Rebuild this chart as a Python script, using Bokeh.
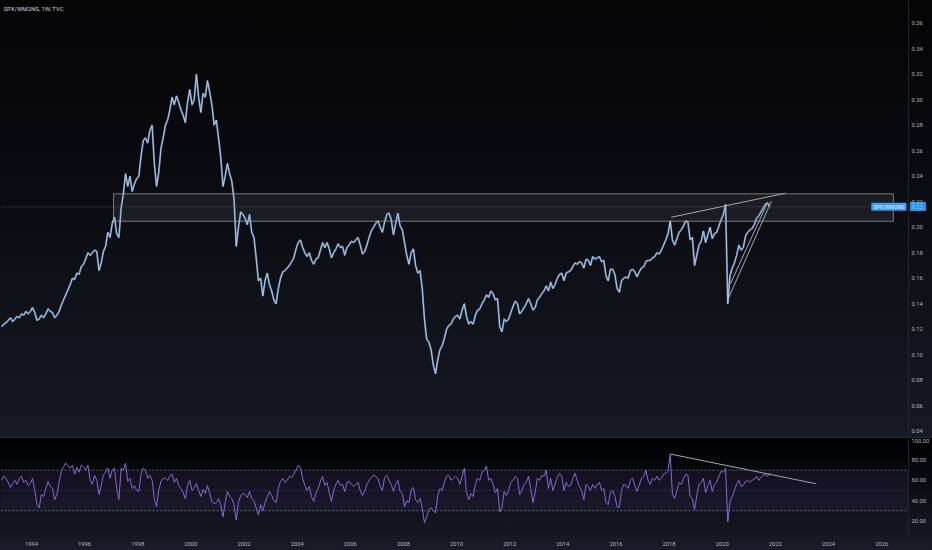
import pandas as pd
from bokeh.plotting import figure
from bokeh.layouts import column
from bokeh.models import (Range1d, FixedTicker, PrintfTickFormatter, BoxAnnotation,
                          Span, Label, ColumnDataSource)
from bokeh.embed import file_html
from bokeh.resources import INLINE

# ---------------- data (monthly) ----------------
title_text = "SPX/WM2NS, 1W, TVC"
series_name = "SPX/WM2NS"

months = pd.date_range("1992-11-01", "2021-10-01", freq="MS")

ratio_close = [
    0.122, 0.124,  # 1992
    0.125, 0.127, 0.129, 0.126, 0.128, 0.130, 0.129, 0.132, 0.131, 0.134, 0.132, 0.134,  # 1993
    0.137, 0.133, 0.127, 0.128, 0.131, 0.129, 0.132, 0.136, 0.134, 0.133, 0.129, 0.131,  # 1994
    0.134, 0.139, 0.143, 0.147, 0.151, 0.155, 0.160, 0.159, 0.164, 0.163, 0.169, 0.171,  # 1995
    0.175, 0.180, 0.178, 0.180, 0.182, 0.181, 0.166, 0.172, 0.181, 0.185, 0.196, 0.192,  # 1996
    0.203, 0.208, 0.195, 0.192, 0.215, 0.226, 0.242, 0.232, 0.240, 0.228, 0.234, 0.238,  # 1997
    0.240, 0.256, 0.268, 0.270, 0.266, 0.276, 0.280, 0.250, 0.232, 0.243, 0.262, 0.270,  # 1998
    0.280, 0.284, 0.292, 0.302, 0.296, 0.303, 0.298, 0.292, 0.288, 0.282, 0.298, 0.308,  # 1999
    0.296, 0.300, 0.320, 0.302, 0.290, 0.305, 0.302, 0.315, 0.306, 0.296, 0.280, 0.284,  # 2000
    0.270, 0.255, 0.232, 0.240, 0.250, 0.242, 0.236, 0.222, 0.185, 0.200, 0.212, 0.210,  # 2001
    0.207, 0.202, 0.210, 0.196, 0.192, 0.176, 0.158, 0.160, 0.146, 0.158, 0.164, 0.155,  # 2002
    0.150, 0.143, 0.140, 0.152, 0.160, 0.165, 0.166, 0.168, 0.170, 0.173, 0.176, 0.183,  # 2003
    0.188, 0.190, 0.184, 0.180, 0.177, 0.180, 0.174, 0.171, 0.175, 0.176, 0.182, 0.188,  # 2004
    0.184, 0.188, 0.183, 0.176, 0.180, 0.183, 0.187, 0.184, 0.185, 0.178, 0.184, 0.186,  # 2005
    0.189, 0.188, 0.190, 0.192, 0.186, 0.179, 0.181, 0.186, 0.192, 0.197, 0.200, 0.203,  # 2006
    0.205, 0.200, 0.196, 0.204, 0.210, 0.211, 0.206, 0.194, 0.203, 0.211, 0.201, 0.198,  # 2007
    0.188, 0.178, 0.171, 0.180, 0.183, 0.170, 0.164, 0.166, 0.152, 0.128, 0.112, 0.110,  # 2008
    0.104, 0.092, 0.085, 0.096, 0.104, 0.107, 0.113, 0.120, 0.123, 0.124, 0.128, 0.130,  # 2009
    0.131, 0.128, 0.135, 0.140, 0.130, 0.124, 0.126, 0.124, 0.131, 0.135, 0.136, 0.140,  # 2010
    0.143, 0.147, 0.145, 0.150, 0.148, 0.143, 0.144, 0.122, 0.118, 0.128, 0.126, 0.128,  # 2011
    0.133, 0.138, 0.142, 0.140, 0.132, 0.134, 0.137, 0.140, 0.144, 0.140, 0.135, 0.137,  # 2012
    0.143, 0.145, 0.148, 0.150, 0.154, 0.150, 0.157, 0.152, 0.155, 0.160, 0.163, 0.164,  # 2013
    0.158, 0.164, 0.165, 0.166, 0.169, 0.172, 0.171, 0.173, 0.172, 0.168, 0.175, 0.174,  # 2014
    0.170, 0.177, 0.175, 0.176, 0.177, 0.173, 0.174, 0.162, 0.158, 0.167, 0.167, 0.163,  # 2015
    0.152, 0.149, 0.158, 0.160, 0.161, 0.160, 0.166, 0.167, 0.165, 0.161, 0.165, 0.168,  # 2016
    0.169, 0.173, 0.174, 0.174, 0.176, 0.177, 0.180, 0.179, 0.182, 0.186, 0.190, 0.195,  # 2017
    0.205, 0.190, 0.186, 0.191, 0.196, 0.198, 0.201, 0.205, 0.204, 0.190, 0.192, 0.170,  # 2018
    0.178, 0.186, 0.189, 0.197, 0.188, 0.194, 0.200, 0.191, 0.195, 0.196, 0.201, 0.206,  # 2019
    0.210, 0.218, 0.140, 0.162, 0.168, 0.172, 0.178, 0.186, 0.182, 0.184, 0.193, 0.196,  # 2020
    0.198, 0.199, 0.202, 0.207, 0.209, 0.212, 0.215, 0.218, 0.219, 0.216,                # 2021
]

rsi_values = [
    60, 64,
    62, 58, 53, 57, 60, 56, 62, 64, 58, 60, 55, 57,
    62, 50, 36, 33, 46, 44, 52, 59, 54, 52, 41, 46,
    58, 69, 73, 77, 74, 72, 75, 66, 73, 68, 75, 73,
    70, 75, 60, 56, 65, 60, 46, 55, 65, 68, 72, 62,
    70, 72, 52, 41, 72, 70, 77, 59, 62, 52, 55, 50,
    49, 66, 72, 70, 62, 65, 60, 42, 34, 50, 59, 62,
    62, 60, 64, 66, 58, 62, 55, 52, 48, 42, 55, 60,
    50, 52, 57, 50, 44, 51, 47, 55, 47, 39, 37, 38,
    42, 36, 24, 38, 49, 44, 42, 36, 21, 38, 45, 47,
    46, 43, 49, 42, 40, 33, 26, 36, 30, 38, 44, 49,
    45, 40, 38, 52, 59, 62, 58, 60, 64, 63, 66, 70,
    75, 72, 62, 55, 50, 54, 44, 39, 48, 52, 59, 64,
    55, 58, 48, 39, 50, 56, 60, 55, 56, 49, 58, 59,
    56, 54, 56, 58, 50, 45, 49, 56, 60, 63, 65, 64,
    62, 54, 50, 63, 65, 60, 56, 49, 56, 60, 49, 47,
    34, 40, 38, 51, 53, 41, 38, 42, 33, 18, 24, 31,
    33, 30, 28, 45, 52, 50, 58, 64, 65, 60, 62, 64,
    62, 56, 64, 72, 48, 41, 47, 44, 56, 62, 60, 68,
    70, 74, 60, 62, 56, 48, 52, 29, 33, 49, 45, 50,
    58, 60, 64, 62, 46, 50, 56, 58, 64, 52, 38, 48,
    62, 60, 65, 64, 70, 52, 62, 50, 56, 63, 67, 64,
    50, 58, 54, 55, 62, 67, 60, 54, 50, 41, 56, 54,
    50, 56, 52, 56, 58, 50, 52, 38, 36, 48, 50, 44,
    34, 33, 50, 56, 55, 52, 60, 62, 55, 49, 55, 62,
    64, 70, 60, 56, 62, 60, 64, 60, 62, 66, 67, 69,
    86, 46, 42, 50, 58, 56, 62, 66, 65, 44, 42, 31,
    45, 56, 58, 62, 48, 55, 60, 49, 56, 58, 64, 69,
    68, 72, 19, 39, 44, 50, 56, 60, 54, 55, 59, 60,
    58, 60, 61, 64, 60, 63, 65, 66, 64, 67,
]

# drawings (decimal years / values)
zone_years = [1997.09, 2026.44]
zone_values = [0.2047, 0.2262]
trend_x0 = [2018.08, 2020.25, 2020.31]
trend_y0 = [0.2078, 0.1451, 0.1558]
trend_x1 = [2022.38, 2021.85, 2021.71]
trend_y1 = [0.2267, 0.2204, 0.2196]
rsi_trend_x = [2018.06, 2023.54]
rsi_trend_y = [85.8, 56.6]

year_ticks = list(range(1994, 2027, 2))
price_ticks = [0.04, 0.06, 0.08, 0.10, 0.12, 0.14, 0.16, 0.18, 0.20, 0.22,
               0.24, 0.26, 0.28, 0.30, 0.32, 0.34, 0.36]
rsi_ticks = [20, 40, 60, 80, 100]
rsi_bands = [30, 50, 70]

# ---------------- build ----------------
assert len(ratio_close) == len(months) == len(rsi_values)
xs = [m.year + (m.month - 0.5) / 12.0 for m in months]
src = ColumnDataSource(dict(x=xs, close=ratio_close, rsi=rsi_values))

FONT = "Roboto"
TXT = "#b2b5be"
W = 932
AX = 23
MAIN_H = 437
Y_LO, Y_HI = 0.0351, 0.3778
x_range = Range1d(1992.835, 2027.01)
PAD = dict(left=2, right=2, top=1, bottom=1)


def style_axis(ax, standoff=3):
    ax.major_label_text_font = FONT
    ax.major_label_text_font_size = "5.8px"
    ax.major_label_text_color = TXT
    ax.major_tick_line_color = None
    ax.minor_tick_line_color = None
    ax.major_tick_out = 0
    ax.major_tick_in = 0
    ax.minor_tick_out = 0
    ax.minor_tick_in = 0
    ax.major_label_standoff = standoff


# last-value pill on the price scale: painted as a CSS layer behind the axis text
last_px_from_top = MAIN_H - (ratio_close[-1] - Y_LO) / (Y_HI - Y_LO) * MAIN_H
pill_layer = ("linear-gradient(#2196f3, #2196f3) %dpx %dpx / 16px 9px no-repeat"
              % (W - AX + 1, round(last_px_from_top - 4.5)))
main_bg = "linear-gradient(to bottom, #040405 0%, #0c0d12 50%, #151923 100%)"

main = figure(width=W, height=MAIN_H, x_range=x_range, y_range=Range1d(Y_LO, Y_HI),
              output_backend="svg", toolbar_location=None, y_axis_location="right",
              min_border_left=0, min_border_right=AX, min_border_top=0, min_border_bottom=0)
main.xaxis.visible = False
main.grid.visible = False
main.outline_line_color = None
main.background_fill_alpha = 0
main.border_fill_alpha = 0
main.styles = {"background": pill_layer + ", " + main_bg}

ya = main.yaxis[0]
ya.ticker = FixedTicker(ticks=price_ticks + [ratio_close[-1]])
ya.formatter = PrintfTickFormatter(format="%.2f")
style_axis(ya)
ya.axis_line_color = "#22252e"

# zone box
main.add_layout(BoxAnnotation(left=zone_years[0], right=zone_years[1],
                              bottom=zone_values[0], top=zone_values[1],
                              fill_color="#9598a1", fill_alpha=0.12,
                              line_color="#a3a6af", line_alpha=0.7, line_width=1))
# last price line
main.add_layout(Span(location=ratio_close[-1], dimension="width", line_color="#787b86",
                     line_alpha=0.25, line_width=1))

# weekly-bar look: a wider blue stroke with a lighter thin stroke on top
main.line("x", "close", source=src, line_color="#5f8fc4", line_width=1.9, line_alpha=0.85)
main.line("x", "close", source=src, line_color="#c9d7e8", line_width=0.8)

main.segment(x0=trend_x0, y0=trend_y0, x1=trend_x1, y1=trend_y1,
             line_color="#c3c6ce", line_width=1, line_alpha=0.85)

main.add_layout(Label(x=3, y=MAIN_H - 8, x_units="screen", y_units="screen", text=title_text,
                      text_font=FONT, text_font_size="6px", text_color="#d1d4dc",
                      text_baseline="middle"))
main.add_layout(Label(x=906, y=ratio_close[-1], x_units="screen", text=series_name,
                      text_font=FONT, text_font_size="5.3px", text_color="#e3f2fd",
                      text_align="right", text_baseline="middle",
                      background_fill_color="#3d9df3", padding=PAD))

# ---------------- RSI pane ----------------
rp = figure(width=W, height=113, x_range=x_range, y_range=Range1d(4.7, 101.2),
            output_backend="svg", toolbar_location=None, y_axis_location="right",
            min_border_left=0, min_border_right=AX, min_border_top=0, min_border_bottom=15)
rp.grid.visible = False
rp.outline_line_color = None
rp.background_fill_alpha = 0
rp.border_fill_alpha = 0
rp.styles = {"background": "linear-gradient(to bottom, #000000 0%, #0b0d12 45%, #181c28 100%)",
             "border-top": "1px solid #262933"}

ry = rp.yaxis[0]
ry.ticker = FixedTicker(ticks=rsi_ticks)
ry.formatter = PrintfTickFormatter(format="%.2f")
style_axis(ry)
ry.axis_line_color = "#22252e"

rx = rp.xaxis[0]
rx.ticker = FixedTicker(ticks=year_ticks)
style_axis(rx, standoff=5)
rx.axis_line_color = None

rp.add_layout(BoxAnnotation(bottom=rsi_bands[0], top=rsi_bands[2], fill_color="#7e57c2",
                            fill_alpha=0.1, line_alpha=0))
for lvl, alpha in zip(rsi_bands, [0.8, 0.3, 0.8]):
    rp.add_layout(Span(location=lvl, dimension="width", line_color="#787b86",
                       line_alpha=alpha, line_dash="2 2", line_width=1))

rp.line("x", "rsi", source=src, line_color="#8a6ad8", line_width=1)
rp.line(x=rsi_trend_x, y=rsi_trend_y, line_color="#c3c6ce", line_width=1, line_alpha=0.85)

layout = column(main, rp, spacing=0)
html = file_html(layout, INLINE, title="SPX/WM2NS")
html = html.replace("<body>", '<body style="background:#0b0c10;">', 1)
open("out.html", "w").write(html)
